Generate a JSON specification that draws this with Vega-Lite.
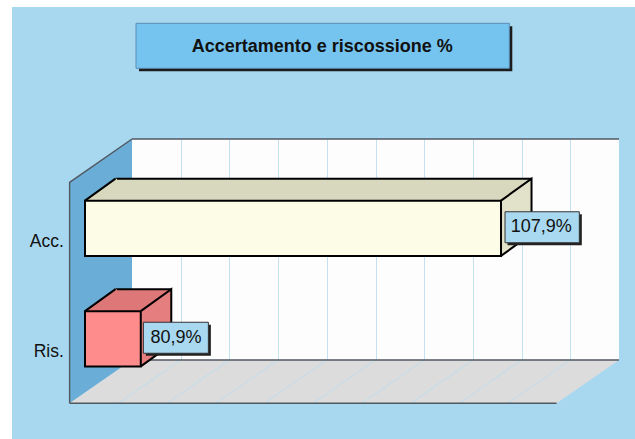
{
  "$schema": "https://vega.github.io/schema/vega-lite/v6.json",
  "width": 487,
  "height": 221,
  "autosize": {"type": "none"},
  "padding": {"left": 132, "top": 139, "right": 16, "bottom": 79},
  "background": "#a8d8f0",
  "config": {"view": {"fill": "#fdfdfd", "stroke": null}},
  "data": {"values": [
    {"cat": "Acc.", "value": 107.9, "label": "107,9%"},
    {"cat": "Ris.", "value": 80.9, "label": "80,9%"}
  ]},
  "layer": [
    {
      "data": {"values": [{"d": 1}]},
      "mark": {"type": "point", "filled": true, "opacity": 1, "size": 4, "strokeWidth": 0, "fill": "#6aaed8",
        "shape": "M-243.5,-110.5 L-243.5,110.5 L-305.9,153.8 L-305.9,-67.2 Z"},
      "encoding": {}
    },
    {
      "data": {"values": [{"d": 1}]},
      "mark": {"type": "point", "filled": true, "opacity": 1, "size": 4, "strokeWidth": 0, "fill": "#dcdcdc",
        "shape": "M-243.5,110.5 L243.5,110.5 L181.1,153.8 L-305.9,153.8 Z"},
      "encoding": {}
    },
    {
      "data": {"values": [{"d": 1}]},
      "mark": {"type": "point", "filled": false, "opacity": 1, "size": 4, "strokeWidth": 1, "stroke": "#bfdcef",
        "shape": "M-194.8,110.5 L-257.2,153.8 M-146.1,110.5 L-208.5,153.8 M-97.4,110.5 L-159.8,153.8 M-48.7,110.5 L-111.1,153.8 M0,110.5 L-62.4,153.8 M48.7,110.5 L-13.7,153.8 M97.4,110.5 L35,153.8 M146.1,110.5 L83.7,153.8 M194.8,110.5 L132.4,153.8"},
      "encoding": {}
    },
    {
      "data": {"values": [{"d": 1}]},
      "mark": {"type": "point", "filled": false, "opacity": 1, "size": 4, "strokeWidth": 1.4, "stroke": "#50585f",
        "shape": "M-243.5,-110.5 H243.5 M-243.5,110.5 H243.5 M-305.9,153.8 H181.1 M-305.9,153.8 V-67.2 L-243.5,-110.5 L-305.9,-67.2"},
      "encoding": {}
    },
    {
      "mark": {"type": "rect", "xOffset": -16.5, "x2Offset": -16.5, "yOffset": 12, "y2Offset": 12, "strokeWidth": 0},
      "encoding": {
        "x": {"field": "value", "type": "quantitative",
          "scale": {"domain": [76.72, 113.22], "zero": false, "nice": false},
          "axis": {"grid": true, "values": [80.37, 84.02, 87.67, 91.32, 94.97, 98.62, 102.27, 105.92, 109.57],
            "labels": false, "ticks": false, "domain": false, "title": null, "gridColor": "#c3e1f2", "gridWidth": 1}},
        "x2": {"datum": 76.72},
        "y": {"field": "cat", "type": "nominal",
          "scale": {"domain": ["Acc.", "Ris."], "paddingInner": 0.5, "paddingOuter": 0.25},
          "axis": {"domain": false, "ticks": false, "grid": false, "title": null, "labelPadding": 68.7, "labelOffset": 47.7,
            "labelFontSize": 17.5, "labelColor": "#111", "labelFont": "Liberation Sans"}},
        "fill": {"condition": {"test": "datum.cat === 'Acc.'", "value": "#d8d8bf"}, "value": "#de7777"}
      }
    },
    {
      "mark": {"type": "rule", "xOffset": -16.5, "x2Offset": -16.5, "yOffset": 12, "stroke": "#000", "strokeWidth": 2},
      "encoding": {
        "x": {"field": "value", "type": "quantitative"},
        "x2": {"datum": 76.72},
        "y": {"field": "cat", "type": "nominal", "bandPosition": 0}
      }
    },
    {
      "mark": {"type": "point", "filled": true, "opacity": 1, "size": 4, "stroke": "#000", "strokeWidth": 2,
        "xOffset": -47, "yOffset": 34, "shape": "M0,0 L30.5,-22 L30.5,33.25 L0,55.25"},
      "encoding": {
        "x": {"field": "value", "type": "quantitative"},
        "y": {"field": "cat", "type": "nominal", "bandPosition": 0},
        "fill": {"condition": {"test": "datum.cat === 'Acc.'", "value": "#e2e2ca"}, "value": "#e57e7e"}
      }
    },
    {
      "mark": {"type": "point", "filled": true, "opacity": 1, "size": 4, "strokeWidth": 0,
        "xOffset": -47, "yOffset": 34, "shape": "M32,0 L0,0 L30.5,-22 L32,-22 Z"},
      "encoding": {
        "x": {"datum": 76.72, "type": "quantitative"},
        "y": {"field": "cat", "type": "nominal", "bandPosition": 0},
        "fill": {"condition": {"test": "datum.cat === 'Acc.'", "value": "#d8d8bf"}, "value": "#de7777"}
      }
    },
    {
      "mark": {"type": "point", "filled": false, "opacity": 1, "size": 4, "stroke": "#000", "strokeWidth": 2,
        "xOffset": -47, "yOffset": 34, "shape": "M0,0 L30.5,-22 L0,0"},
      "encoding": {
        "x": {"datum": 76.72, "type": "quantitative"},
        "y": {"field": "cat", "type": "nominal", "bandPosition": 0}
      }
    },
    {
      "mark": {"type": "rect", "xOffset": -47, "x2Offset": -47, "yOffset": 34, "y2Offset": 34, "stroke": "#000", "strokeWidth": 2},
      "encoding": {
        "x": {"field": "value", "type": "quantitative"},
        "x2": {"datum": 76.72},
        "y": {"field": "cat", "type": "nominal"},
        "fill": {"condition": {"test": "datum.cat === 'Acc.'", "value": "#fdfce6"}, "value": "#ff8c8c"}
      }
    },
    {
      "transform": [{"filter": "datum.cat === 'Acc.'"}],
      "mark": {"type": "rect", "xOffset": -40.5, "x2Offset": 33.8, "yOffset": 35.5, "y2Offset": 35.5, "height": 31, "fill": "#222", "strokeWidth": 0},
      "encoding": {"x": {"field": "value", "type": "quantitative"}, "x2": {"field": "value"}, "y": {"field": "cat", "type": "nominal"}}
    },
    {
      "transform": [{"filter": "datum.cat === 'Ris.'"}],
      "mark": {"type": "rect", "xOffset": -41.9, "x2Offset": 23.1, "yOffset": 35.5, "y2Offset": 35.5, "height": 31, "fill": "#222", "strokeWidth": 0},
      "encoding": {"x": {"field": "value", "type": "quantitative"}, "x2": {"field": "value"}, "y": {"field": "cat", "type": "nominal"}}
    },
    {
      "transform": [{"filter": "datum.cat === 'Acc.'"}],
      "mark": {"type": "rect", "xOffset": -43, "x2Offset": 31.3, "yOffset": 33, "y2Offset": 33, "height": 31, "fill": "#a9d9f0", "stroke": "#333", "strokeWidth": 1},
      "encoding": {"x": {"field": "value", "type": "quantitative"}, "x2": {"field": "value"}, "y": {"field": "cat", "type": "nominal"}}
    },
    {
      "transform": [{"filter": "datum.cat === 'Ris.'"}],
      "mark": {"type": "rect", "xOffset": -44.4, "x2Offset": 20.6, "yOffset": 33, "y2Offset": 33, "height": 31, "fill": "#a9d9f0", "stroke": "#333", "strokeWidth": 1},
      "encoding": {"x": {"field": "value", "type": "quantitative"}, "x2": {"field": "value"}, "y": {"field": "cat", "type": "nominal"}}
    },
    {
      "mark": {"type": "text", "align": "left", "baseline": "middle", "xOffset": -37.3, "yOffset": 33,
        "font": "Liberation Sans", "fontSize": 18, "fill": "#111"},
      "encoding": {
        "x": {"field": "value", "type": "quantitative"},
        "y": {"field": "cat", "type": "nominal"},
        "text": {"field": "label"}
      }
    },
    {
      "data": {"values": [{"d": 1}]},
      "mark": {"type": "point", "filled": true, "opacity": 1, "size": 4, "strokeWidth": 0, "fill": "#1c1c1c",
        "shape": "M-236.5,-223.2 H136.8 V-178.2 H-236.5 Z"},
      "encoding": {}
    },
    {
      "data": {"values": [{"d": 1}]},
      "mark": {"type": "point", "filled": true, "opacity": 1, "size": 4, "strokeWidth": 1, "stroke": "#5b8db5", "fill": "#74c4ef",
        "shape": "M-239.5,-226.2 H133.8 V-181.2 H-239.5 Z"},
      "encoding": {}
    },
    {
      "data": {"values": [{"t": "Accertamento e riscossione %"}]},
      "mark": {"type": "text", "align": "center", "baseline": "alphabetic", "dx": -53.3, "dy": -197.8,
        "font": "Liberation Sans", "fontWeight": "bold", "fontSize": 18, "fill": "#111"},
      "encoding": {"text": {"field": "t"}}
    },
    {
      "data": {"values": [{"d": 1}]},
      "mark": {"type": "point", "filled": true, "opacity": 1, "size": 4, "strokeWidth": 0, "fill": "#ffffff",
        "shape": "M-385,-260 H270 V-242.5 H-363.5 V200 H-385 Z"},
      "encoding": {}
    }
  ]
}
